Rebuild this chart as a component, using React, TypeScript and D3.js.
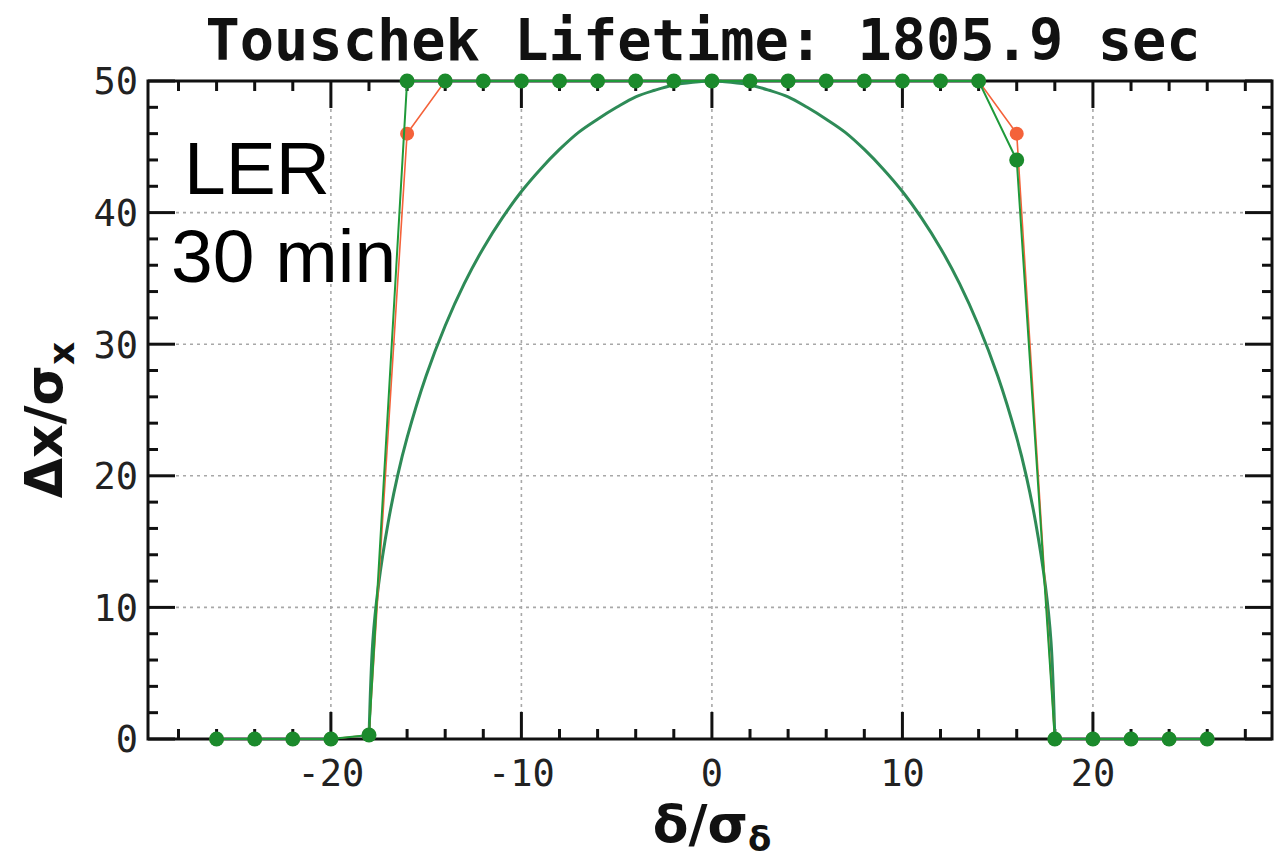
import React from "react";
import * as d3 from "d3";

const W = 1274;
const H = 864;

const xTicksMajor = [-20, -10, 0, 10, 20];
const yTicksMajor = [0, 10, 20, 30, 40, 50];

// scan points (green, on top)
const greenX = [-26, -24, -22, -20, -18, -16, -14, -12, -10, -8, -6, -4, -2, 0, 2, 4, 6, 8, 10, 12, 14, 16, 18, 20, 22, 24, 26];
const greenY = [0, 0, 0, 0, 0.3, 50, 50, 50, 50, 50, 50, 50, 50, 50, 50, 50, 50, 50, 50, 50, 50, 44, 0, 0, 0, 0, 0];

// scan points (orange, underneath)
const orangeX = [-26, -24, -22, -20, -18, -16, -14, -12, -10, -8, -6, -4, -2, 0, 2, 4, 6, 8, 10, 12, 14, 16, 18, 20, 22, 24, 26];
const orangeY = [0, 0, 0, 0, 0.3, 46, 50, 50, 50, 50, 50, 50, 50, 50, 50, 50, 50, 50, 50, 50, 50, 46, 0, 0, 0, 0, 0];

// envelope curve
const curveX = [-18, -17.8, -17.5, -17, -16.5, -16, -15, -14, -13, -12, -11, -10, -9, -8, -7, -6, -5, -4, -3, -2, -1, 0, 1, 2, 3, 4, 5, 6, 7, 8, 9, 10, 11, 12, 13, 14, 15, 16, 16.5, 17, 17.5, 17.8, 18];
const curveY = [0, 7.4, 11.7, 16.4, 20.0, 22.9, 27.6, 31.4, 34.6, 37.3, 39.6, 41.6, 43.3, 44.8, 46.1, 47.1, 48.0, 48.8, 49.3, 49.7, 49.9, 50, 49.9, 49.7, 49.3, 48.8, 48.0, 47.1, 46.1, 44.8, 43.3, 41.6, 39.6, 37.3, 34.6, 31.4, 27.6, 22.9, 20.0, 16.4, 11.7, 7.4, 0];

const titleText = "Touschek Lifetime: 1805.9 sec";
const noteLines = ["LER", "30 min"];

const L = 148, R = 1272, T = 81, B = 739;

export default function App() {
  const x = d3.scaleLinear().domain([-29.6, 29.4]).range([L, R]);
  const y = d3.scaleLinear().domain([0, 50]).range([B, T]);

  const xMinor = d3.range(-28, 29, 2).filter((v) => v % 10 !== 0);
  const yMinor = d3.range(2, 50, 2).filter((v) => v % 10 !== 0);

  const line = d3.line<[number, number]>().x((d) => x(d[0])).y((d) => y(d[1]));
  const curveLine = d3
    .line<[number, number]>()
    .x((d) => x(d[0]))
    .y((d) => y(d[1]))
    .curve(d3.curveCatmullRom);

  const green = greenX.map((v, i) => [v, greenY[i]] as [number, number]);
  const orange = orangeX.map((v, i) => [v, orangeY[i]] as [number, number]);
  const env = curveX.map((v, i) => [v, curveY[i]] as [number, number]);

  const mono = "'DejaVu Sans Mono', monospace";
  const sans = "'DejaVu Sans', sans-serif";
  const gridC = "#a8a8a8";
  const majorLen = 27;
  const minorLen = 10;

  return (
    <svg
      width={W}
      height={H}
      style={{ position: "absolute", left: 0, top: 0, background: "#fff" }}
    >
      {/* grid */}
      {xTicksMajor.map((v) => (
        <line key={"gx" + v} x1={x(v)} x2={x(v)} y1={T} y2={B} stroke={gridC} strokeWidth={1.6} strokeDasharray="3,4" />
      ))}
      {yTicksMajor.filter((v) => v > 0 && v < 50).map((v) => (
        <line key={"gy" + v} x1={L} x2={R} y1={y(v)} y2={y(v)} stroke={gridC} strokeWidth={1.6} strokeDasharray="3,4" />
      ))}

      {/* ticks */}
      <g stroke="#111" strokeWidth={3}>
        {xTicksMajor.map((v) => (
          <g key={"tx" + v}>
            <line x1={x(v)} x2={x(v)} y1={B} y2={B - majorLen} />
            <line x1={x(v)} x2={x(v)} y1={T} y2={T + majorLen} />
          </g>
        ))}
        {xMinor.map((v) => (
          <g key={"mx" + v}>
            <line x1={x(v)} x2={x(v)} y1={B} y2={B - minorLen} />
            <line x1={x(v)} x2={x(v)} y1={T} y2={T + minorLen} />
          </g>
        ))}
        {yTicksMajor.map((v) => (
          <g key={"ty" + v}>
            <line x1={L} x2={L + majorLen} y1={y(v)} y2={y(v)} />
            <line x1={R} x2={R - majorLen} y1={y(v)} y2={y(v)} />
          </g>
        ))}
        {yMinor.map((v) => (
          <g key={"my" + v}>
            <line x1={L} x2={L + minorLen} y1={y(v)} y2={y(v)} />
            <line x1={R} x2={R - minorLen} y1={y(v)} y2={y(v)} />
          </g>
        ))}
      </g>

      {/* frame */}
      <rect x={L} y={T} width={R - L} height={B - T} fill="none" stroke="#111" strokeWidth={3} />

      {/* envelope curve */}
      <path d={curveLine(env) || ""} fill="none" stroke="#2e8b57" strokeWidth={3} />

      {/* orange series */}
      <path d={line(orange) || ""} fill="none" stroke="#f4623a" strokeWidth={1.6} />
      {orange.map((d, i) => (
        <circle key={"o" + i} cx={x(d[0])} cy={y(d[1])} r={7} fill="#f4623a" />
      ))}

      {/* green series */}
      <path d={line(green) || ""} fill="none" stroke="#1f9a3a" strokeWidth={2} />
      {green.map((d, i) => (
        <circle key={"g" + i} cx={x(d[0])} cy={y(d[1])} r={7.5} fill="#1b8a2c" />
      ))}

      {/* tick labels */}
      {xTicksMajor.map((v) => (
        <text key={"lx" + v} x={x(v)} y={786} textAnchor="middle" fontFamily={mono} fontSize={37} fill="#222">
          {v < 0 ? "-" + Math.abs(v) : String(v)}
        </text>
      ))}
      {yTicksMajor.map((v) => (
        <text key={"ly" + v} x={138} y={y(v)} dy="0.36em" textAnchor="end" fontFamily={mono} fontSize={37} fill="#222">
          {String(v)}
        </text>
      ))}

      {/* title */}
      <text x={703} y={60} textAnchor="middle" fontFamily={mono} fontWeight="bold" fontSize={57} fill="#111">
        {titleText}
      </text>

      {/* axis labels */}
      <text x={712} y={842} textAnchor="middle" fontFamily={sans} fontWeight="bold" fontSize={52} fill="#111">
        δ/σ<tspan fontSize={34} dy={9}>δ</tspan>
      </text>
      <text
        transform="translate(62,420) rotate(-90)"
        textAnchor="middle"
        fontFamily={sans}
        fontWeight="bold"
        fontSize={52}
        fill="#111"
      >
        Δx/σ<tspan fontSize={36} dy={12}>x</tspan>
      </text>

      {/* annotation */}
      {noteLines.map((s, i) => (
        <text key={"n" + i} x={i === 0 ? 184 : 171} y={i === 0 ? 194 : 282} fontFamily="'Liberation Sans', Arial, Helvetica, sans-serif" fontSize={75} fill="#000">
          {s}
        </text>
      ))}
    </svg>
  );
}
